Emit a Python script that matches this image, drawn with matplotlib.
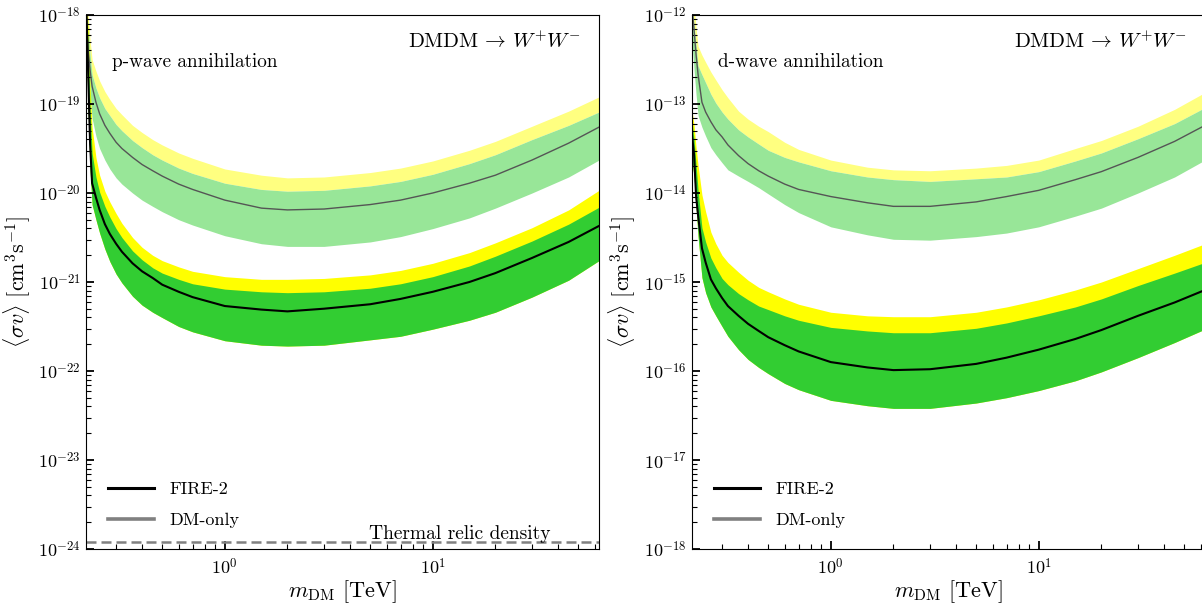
import numpy as np
import matplotlib
matplotlib.use('Agg')
import matplotlib.pyplot as plt
from matplotlib.lines import Line2D
from matplotlib.ticker import FuncFormatter

plt.rcParams['font.family'] = 'serif'
plt.rcParams['font.serif'] = ['cmr10']
plt.rcParams['mathtext.fontset'] = 'cm'
plt.rcParams['axes.unicode_minus'] = False
plt.rcParams['axes.formatter.use_mathtext'] = True

# DM mass grid [TeV]
m_dm = [0.215, 0.22, 0.225, 0.23, 0.24, 0.25, 0.265, 0.28, 0.3, 0.32, 0.36, 0.4, 0.45, 0.5,
        0.6, 0.7, 1.0, 1.5, 2.0, 3.0, 5.0, 7.0, 10.0, 15.0, 20.0, 30.0, 45.0, 63.0]

# p-wave, log10 <sigma v> [cm^3 s^-1]
p_fire = [-17.8, -18.62, -19.45, -19.89, -20.05, -20.19, -20.35, -20.46, -20.57, -20.66, -20.79,
          -20.88, -20.955, -21.03, -21.11, -21.17, -21.27, -21.31, -21.33, -21.30, -21.25, -21.19,
          -21.11, -21.0, -20.90, -20.73, -20.55, -20.37]
p_fire_lo = [-18.06, -19.07, -19.75, -20.13, -20.30, -20.45, -20.63, -20.77, -20.91, -21.01, -21.16,
             -21.26, -21.34, -21.40, -21.50, -21.56, -21.66, -21.71, -21.72, -21.71, -21.65, -21.61,
             -21.53, -21.43, -21.34, -21.17, -20.98, -20.76]
p_fire_1s = [-17.9, -18.28, -19.05, -19.55, -19.82, -19.99, -20.15, -20.27, -20.40, -20.50, -20.65,
             -20.75, -20.84, -20.90, -20.97, -21.02, -21.08, -21.11, -21.12, -21.11, -21.07, -21.02,
             -20.94, -20.82, -20.71, -20.54, -20.35, -20.16]
p_fire_2s = [-17.8, -18.11, -18.80, -19.26, -19.60, -19.80, -19.98, -20.10, -20.23, -20.34, -20.50,
             -20.61, -20.70, -20.76, -20.83, -20.88, -20.94, -20.97, -20.97, -20.96, -20.92, -20.87,
             -20.79, -20.67, -20.56, -20.39, -20.19, -19.97]
p_dmo = [-17.9, -18.39, -18.62, -18.80, -18.98, -19.11, -19.24, -19.33, -19.43, -19.50, -19.60,
         -19.68, -19.75, -19.81, -19.90, -19.96, -20.08, -20.17, -20.19, -20.18, -20.13, -20.08,
         -20.0, -19.89, -19.80, -19.63, -19.44, -19.26]
p_dmo_lo = [-18.06, -18.51, -18.90, -19.16, -19.36, -19.50, -19.63, -19.73, -19.83, -19.90, -20.0,
            -20.08, -20.15, -20.21, -20.30, -20.36, -20.48, -20.57, -20.60, -20.60, -20.55, -20.49,
            -20.40, -20.28, -20.17, -20.0, -19.82, -19.63]
p_dmo_1s = [-17.9, -18.11, -18.45, -18.67, -18.82, -18.93, -19.05, -19.13, -19.23, -19.30, -19.41,
            -19.49, -19.57, -19.63, -19.72, -19.78, -19.89, -19.96, -19.98, -19.97, -19.92, -19.87,
            -19.79, -19.67, -19.57, -19.40, -19.24, -19.09]
p_dmo_2s = [-17.8, -18.0, -18.28, -18.50, -18.63, -18.74, -18.86, -18.95, -19.05, -19.12, -19.24,
            -19.32, -19.40, -19.46, -19.55, -19.61, -19.73, -19.80, -19.83, -19.82, -19.77, -19.72,
            -19.64, -19.52, -19.42, -19.25, -19.08, -18.92]

# d-wave, log10 <sigma v> [cm^3 s^-1]
d_fire = [-13.35, -13.57, -14.04, -14.25, -14.62, -14.78, -14.97, -15.07, -15.18, -15.27, -15.38,
          -15.47, -15.55, -15.62, -15.71, -15.78, -15.90, -15.96, -15.99, -15.98, -15.92, -15.85,
          -15.76, -15.64, -15.54, -15.38, -15.23, -15.09]
d_fire_lo = [-13.63, -13.82, -14.16, -14.49, -14.95, -15.12, -15.28, -15.38, -15.50, -15.61, -15.76,
             -15.87, -15.96, -16.03, -16.14, -16.21, -16.33, -16.39, -16.42, -16.42, -16.36, -16.30,
             -16.22, -16.11, -16.01, -15.85, -15.68, -15.53]
d_fire_1s = [-13.18, -13.40, -13.69, -13.97, -14.39, -14.55, -14.73, -14.84, -14.96, -15.03, -15.13,
             -15.20, -15.27, -15.31, -15.38, -15.43, -15.51, -15.55, -15.57, -15.57, -15.52, -15.46,
             -15.38, -15.28, -15.19, -15.04, -14.90, -14.78]
d_fire_2s = [-13.07, -13.24, -13.49, -13.69, -14.02, -14.21, -14.44, -14.57, -14.70, -14.78, -14.89,
             -14.98, -15.06, -15.11, -15.19, -15.25, -15.34, -15.38, -15.39, -15.39, -15.34, -15.28,
             -15.20, -15.09, -15.00, -14.85, -14.70, -14.57]
d_dmo = [-11.9, -12.17, -12.45, -12.67, -12.98, -13.09, -13.20, -13.29, -13.37, -13.46, -13.58,
         -13.67, -13.75, -13.81, -13.90, -13.96, -14.04, -14.11, -14.15, -14.15, -14.10, -14.04,
         -13.97, -13.85, -13.76, -13.60, -13.42, -13.24]
d_dmo_lo = [-12.28, -12.62, -12.90, -13.13, -13.26, -13.36, -13.49, -13.57, -13.66, -13.74, -13.81,
            -13.87, -13.94, -14.01, -14.13, -14.22, -14.38, -14.47, -14.52, -14.53, -14.49, -14.45,
            -14.38, -14.26, -14.17, -14.00, -13.82, -13.63]
d_dmo_1s = [-11.9, -12.11, -12.34, -12.57, -12.67, -12.76, -12.89, -12.99, -13.09, -13.17, -13.29,
            -13.37, -13.45, -13.52, -13.60, -13.65, -13.75, -13.82, -13.85, -13.87, -13.84, -13.82,
            -13.76, -13.64, -13.55, -13.39, -13.22, -13.04]
d_dmo_2s = [-11.8, -11.9, -12.15, -12.35, -12.45, -12.53, -12.64, -12.73, -12.84, -12.93, -13.08,
            -13.17, -13.25, -13.31, -13.43, -13.51, -13.63, -13.71, -13.74, -13.75, -13.72, -13.69,
            -13.63, -13.50, -13.41, -13.25, -13.06, -12.87]

thermal_relic = 1.2e-24

panels = [
    dict(fire=p_fire, fire_lo=p_fire_lo, fire_1s=p_fire_1s, fire_2s=p_fire_2s,
         dmo=p_dmo, dmo_lo=p_dmo_lo, dmo_1s=p_dmo_1s, dmo_2s=p_dmo_2s,
         ylim=(1e-24, 1e-18), label='p-wave annihilation', relic=True),
    dict(fire=d_fire, fire_lo=d_fire_lo, fire_1s=d_fire_1s, fire_2s=d_fire_2s,
         dmo=d_dmo, dmo_lo=d_dmo_lo, dmo_1s=d_dmo_1s, dmo_2s=d_dmo_2s,
         ylim=(1e-18, 1e-12), label='d-wave annihilation', relic=False),
]

W, H = 1202, 607
fig = plt.figure(figsize=(W / 100, H / 100), dpi=100)
ax_l = fig.add_axes([86 / W, (H - 549) / H, 513 / W, 534 / H])
ax_r = fig.add_axes([692 / W, (H - 549) / H, 513 / W, 534 / H])

m = np.array(m_dm)
for ax, p in zip([ax_l, ax_r], panels):
    e = lambda k: 10 ** np.array(p[k])
    # DM-only bands (lighter)
    ax.fill_between(m, e('dmo_1s'), e('dmo_2s'), color='#ffff80', lw=0)
    ax.fill_between(m, e('dmo_lo'), e('dmo_1s'), color='#98e698', lw=0)
    ax.plot(m, e('dmo'), color='#555555', lw=1.0)
    # FIRE-2 bands
    ax.fill_between(m, e('fire_lo'), e('fire_2s'), color='#ffff00', lw=0)
    ax.fill_between(m, e('fire_lo'), e('fire_1s'), color='#32cd32', lw=0)
    ax.plot(m, e('fire'), color='k', lw=1.5)

    if p['relic']:
        ax.axhline(thermal_relic, color='gray', ls=(0, (4, 2)), lw=1.8)
        ax.text(0.905, 0.012, 'Thermal relic density', transform=ax.transAxes,
                ha='right', va='bottom', fontsize=14)

    ax.set_xscale('log')
    ax.set_yscale('log')
    ax.set_xlim(0.215, 63)
    ax.set_ylim(*p['ylim'])
    ax.yaxis.set_major_formatter(FuncFormatter(lambda v, pos: r'$10^{%d}$' % round(np.log10(v))))
    ax.xaxis.set_major_formatter(FuncFormatter(lambda v, pos: r'$10^{%d}$' % round(np.log10(v))))
    ax.tick_params(which='major', direction='in', length=6, width=1.3, labelsize=13)
    ax.tick_params(which='minor', direction='in', length=3.5, width=0.8)
    ax.tick_params(axis='x', pad=6)

    ax.set_xlabel(r'$m_{\rm DM}$ [TeV]', fontsize=16, labelpad=0)
    ax.set_ylabel(r'$\langle \sigma v \rangle\ [\mathrm{cm}^3\mathrm{s}^{-1}]$', fontsize=16, labelpad=4)

    ax.text(0.05, 0.912, p['label'], transform=ax.transAxes, ha='left', va='center', fontsize=13.8)
    ax.text(0.965, 0.95, r'$\mathrm{DMDM}\,\rightarrow\,W^{+}W^{-}$', transform=ax.transAxes,
            ha='right', va='center', fontsize=15)

    handles = [Line2D([], [], color='k', lw=2.2), Line2D([], [], color='gray', lw=2.6)]
    ax.legend(handles, ['FIRE-2', 'DM-only'], loc='lower left', frameon=False, fontsize=13,
              handlelength=2.5, handletextpad=0.9, labelspacing=0.83,
              bbox_to_anchor=(0.012, 0.009))

fig.savefig('out.png', dpi=100)
